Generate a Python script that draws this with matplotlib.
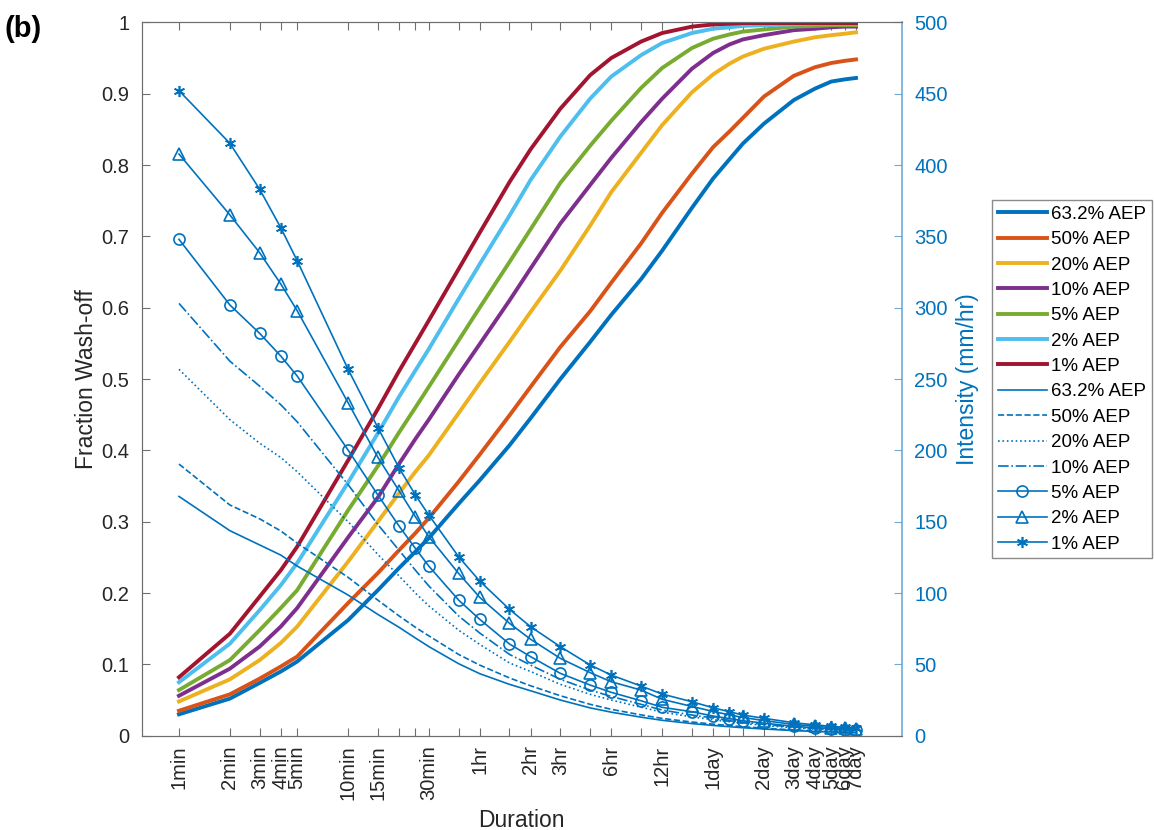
import numpy as np
import matplotlib
matplotlib.use("Agg")
from matplotlib import pyplot as plt

plt.rcParams['font.family'] = ['Liberation Sans', 'DejaVu Sans']

# durations in minutes (standard ARR durations)
durations = [1, 2, 3, 4, 5, 10, 15, 20, 25, 30, 45, 60, 90, 120, 180, 270, 360,
             540, 720, 1080, 1440, 1800, 2160, 2880, 4320, 5760, 7200, 8640, 10080]
tick_labels = ['1min', '2min', '3min', '4min', '5min', '10min', '15min', '', '', '30min',
               '', '1hr', '', '2hr', '3hr', '', '6hr', '', '12hr', '', '1day', '', '',
               '2day', '3day', '4day', '5day', '6day', '7day']

aep_labels = ['63.2% AEP', '50% AEP', '20% AEP', '10% AEP', '5% AEP', '2% AEP', '1% AEP']

# fraction wash-off (left axis)
wash_632 = [0.030, 0.052, 0.074, 0.090, 0.104, 0.162, 0.204, 0.235, 0.258, 0.277, 0.325,
            0.358, 0.407, 0.445, 0.500, 0.552, 0.590, 0.640, 0.680, 0.740, 0.781, 0.808,
            0.830, 0.858, 0.891, 0.907, 0.917, 0.920, 0.922]
wash_50 = [0.035, 0.058, 0.080, 0.097, 0.111, 0.186, 0.228, 0.260, 0.284, 0.305, 0.356,
           0.394, 0.449, 0.489, 0.545, 0.595, 0.635, 0.690, 0.733, 0.788, 0.825, 0.847,
           0.866, 0.896, 0.925, 0.937, 0.943, 0.946, 0.948]
wash_20 = [0.048, 0.079, 0.106, 0.130, 0.153, 0.244, 0.300, 0.340, 0.370, 0.393, 0.452,
           0.494, 0.552, 0.594, 0.652, 0.715, 0.762, 0.817, 0.856, 0.902, 0.927, 0.942,
           0.952, 0.963, 0.973, 0.979, 0.982, 0.984, 0.986]
wash_10 = [0.056, 0.094, 0.125, 0.153, 0.179, 0.278, 0.334, 0.381, 0.416, 0.443, 0.506,
           0.549, 0.610, 0.655, 0.718, 0.772, 0.810, 0.860, 0.893, 0.935, 0.957, 0.969,
           0.976, 0.982, 0.989, 0.991, 0.993, 0.994, 0.994]
wash_5 = [0.064, 0.106, 0.148, 0.179, 0.204, 0.316, 0.378, 0.425, 0.460, 0.489, 0.554,
          0.600, 0.664, 0.710, 0.775, 0.827, 0.862, 0.908, 0.936, 0.964, 0.977, 0.983,
          0.987, 0.990, 0.994, 0.995, 0.996, 0.996, 0.996]
wash_2 = [0.075, 0.129, 0.176, 0.211, 0.242, 0.355, 0.424, 0.475, 0.512, 0.542, 0.612,
          0.661, 0.729, 0.779, 0.840, 0.893, 0.924, 0.954, 0.971, 0.985, 0.991, 0.993,
          0.995, 0.996, 0.997, 0.998, 0.998, 0.998, 0.998]
wash_1 = [0.082, 0.143, 0.195, 0.232, 0.265, 0.386, 0.458, 0.511, 0.550, 0.582, 0.654,
          0.705, 0.776, 0.822, 0.879, 0.926, 0.950, 0.973, 0.985, 0.994, 0.997, 0.998,
          0.999, 0.999, 0.999, 0.999, 0.999, 0.999, 0.999]

# rainfall intensity mm/hr (right axis)
int_632 = [167.7, 143.7, 133.7, 126.6, 118.9, 98.6, 85.0, 76.0, 68.5, 62.5, 50.5, 43.5,
           36.0, 31.5, 25.0, 19.5, 16.5, 13.0, 10.8, 8.5, 7.2, 6.3, 5.6, 4.7, 3.6, 3.0,
           2.6, 2.3, 2.1]
int_50 = [190.4, 161.7, 152.0, 143.5, 135.0, 111.0, 95.0, 84.0, 76.0, 70.0, 57.0, 49.5,
          40.5, 35.0, 28.0, 22.0, 18.5, 14.6, 12.1, 9.6, 8.1, 7.1, 6.3, 5.3, 4.0, 3.3,
          2.9, 2.6, 2.3]
int_20 = [256.8, 221.5, 205.0, 195.0, 185.0, 150.0, 127.0, 112.0, 100.0, 91.0, 74.0,
          64.0, 51.0, 45.0, 36.0, 29.0, 25.0, 20.0, 16.5, 13.2, 11.2, 9.8, 8.7, 7.2, 5.5,
          4.6, 4.0, 3.6, 3.2]
int_10 = [303.0, 262.5, 245.0, 232.0, 220.0, 176.0, 148.0, 130.0, 116.0, 105.0, 84.0,
          72.0, 57.0, 49.5, 39.5, 32.0, 27.5, 22.0, 18.0, 14.5, 12.4, 10.8, 9.5, 7.9, 6.0,
          5.0, 4.4, 3.9, 3.5]
int_5 = [347.9, 301.9, 282.0, 266.1, 252.1, 200.2, 168.7, 147.0, 131.3, 118.9, 95.1,
         81.6, 64.3, 55.4, 43.7, 35.5, 30.4, 24.5, 19.9, 16.8, 13.8, 12.0, 10.5, 8.8,
         6.6, 5.5, 4.8, 4.3, 3.9]
int_2 = [407.7, 365.0, 338.5, 316.6, 297.9, 233.4, 195.1, 171.7, 153.5, 139.5, 113.8,
         97.0, 78.8, 67.6, 54.2, 44.2, 37.8, 32.0, 25.5, 20.5, 17.0, 14.6, 12.8, 10.6,
         7.9, 6.6, 5.7, 5.1, 4.6]
int_1 = [452.1, 415.2, 383.0, 356.0, 332.9, 256.8, 215.9, 187.8, 168.7, 154.7, 125.5,
         108.4, 88.6, 76.4, 62.4, 49.6, 42.5, 34.8, 29.2, 23.8, 19.6, 16.8, 14.5, 12.2,
         9.1, 7.6, 6.6, 5.9, 5.3]

washoff = [wash_632, wash_50, wash_20, wash_10, wash_5, wash_2, wash_1]
intensity = [int_632, int_50, int_20, int_10, int_5, int_2, int_1]

colors = ['#0072BD', '#D95319', '#EDB120', '#7E2F8E', '#77AC30', '#4DBEEE', '#A2142F']
styles = ['-', '--', ':', '-.', '-', '-', '-']
markers = [None, None, None, None, 'o', '^', (6, 2, 0)]
blue = '#0072BD'
axcol = '#262626'

fig = plt.figure(figsize=(11.54, 8.30), dpi=100)
ax = fig.add_axes([0.1228, 0.1136, 0.6586, 0.8595])
ax2 = ax.twinx()

handles = []
for i in range(7):
    h, = ax.plot(durations, washoff[i], color=colors[i], lw=2.8, label=aep_labels[i])
    handles.append(h)
for i in range(7):
    h, = ax2.plot(durations, intensity[i], color=blue, lw=1.2, ls=styles[i],
                  marker=markers[i], ms=8, mfc='none', mew=1.2, label=aep_labels[i])
    handles.append(h)

ax.set_xscale('log')
ax.set_xlim(0.602, 18790)
ax.set_ylim(0, 1)
ax2.set_ylim(0, 500)
ax.set_xticks(durations)
ax.set_xticklabels(tick_labels, rotation=90, fontsize=14.5, color=axcol)
ax.xaxis.set_minor_locator(matplotlib.ticker.NullLocator())
ax.set_yticks(np.arange(0, 1.01, 0.1))
ax.set_yticklabels(['0', '0.1', '0.2', '0.3', '0.4', '0.5', '0.6', '0.7', '0.8', '0.9', '1'])
ax2.set_yticks(np.arange(0, 501, 50))

ax.tick_params(axis='x', direction='in', top=True, length=6, width=0.8, color='#6e6e6e',
               pad=7)
ax.tick_params(axis='y', direction='in', length=6, width=0.8, color='#6e6e6e',
               labelsize=14.5, labelcolor=axcol, pad=9)
ax2.tick_params(axis='y', direction='in', length=6, width=0.8, color='#6fa9d6',
                labelsize=14.5, labelcolor=blue, pad=9)

for s in ['left', 'bottom', 'top']:
    ax.spines[s].set_color('#6e6e6e')
    ax2.spines[s].set_color('#6e6e6e')
ax.spines['right'].set_visible(False)
ax2.spines['right'].set_color('#6fa9d6')
ax2.spines['right'].set_linewidth(1.2)

ax.set_xlabel('Duration', fontsize=16.5, color=axcol, labelpad=6)
ax.set_ylabel('Fraction Wash-off', fontsize=16.5, color=axcol, labelpad=2)
ax2.set_ylabel('Intensity (mm/hr)', fontsize=16.5, color=blue, labelpad=6)

fig.text(0.004, 0.965, '(b)', fontsize=21, fontweight='bold', ha='left', va='center')

leg = fig.legend(handles=handles, loc='upper left', bbox_to_anchor=(0.8596, 0.759),
                 fontsize=13.5, frameon=True, fancybox=False, handlelength=2.65,
                 handletextpad=0.2, labelspacing=0.44, borderpad=0.3, borderaxespad=0)
leg.get_frame().set_edgecolor('#6e6e6e')
leg.get_frame().set_linewidth(1.0)

plt.savefig("out.png", dpi=100)
